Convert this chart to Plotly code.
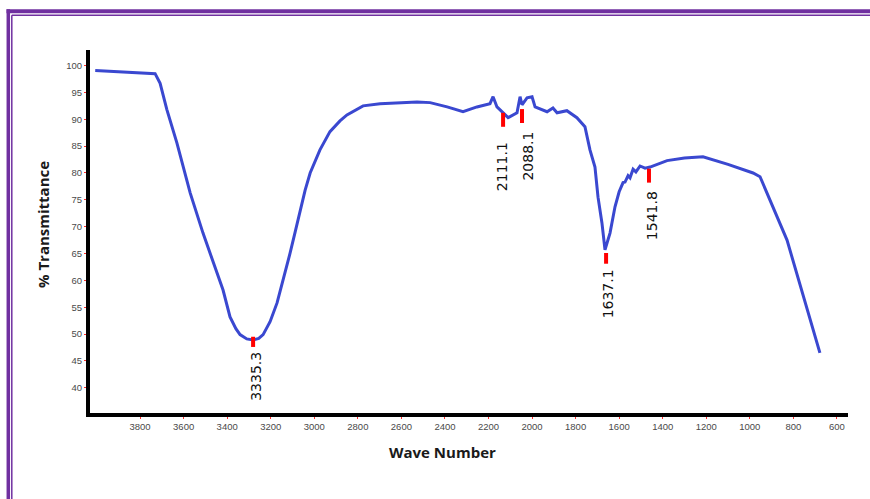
import plotly.graph_objects as go

# ---- data ----
wavenumber = [4006, 3869, 3731, 3708, 3677, 3631, 3570, 3511, 3446, 3419, 3387, 3360, 3341, 3310,
              3281, 3255, 3235, 3203, 3171, 3139, 3111, 3088, 3065, 3042, 3019, 2974, 2928, 2882,
              2850, 2776, 2698, 2620, 2528, 2468, 2390, 2317,
              2253, 2193, 2179, 2161, 2133, 2110, 2069, 2055, 2046, 2023, 2000, 1986, 1931,
              1904, 1885, 1840, 1794, 1757, 1734, 1711, 1697, 1679, 1665, 1642, 1619, 1600,
              1582, 1573, 1559, 1550, 1536, 1523, 1504, 1481, 1458, 1380, 1300, 1229, 1215,
              1100, 985, 953, 829, 678]
transmittance = [99.1, 98.8, 98.5, 96.7, 91.8, 85.6, 76.3, 68.8, 61.4, 58.2, 53.2, 51.0, 49.9, 49.1,
                 48.9, 49.2, 49.9, 52.3, 55.8, 60.5, 65.1, 69.0, 73.1, 76.8, 80.0, 84.3, 87.7, 89.7,
                 90.8, 92.5, 92.9, 93.1, 93.2, 93.1, 92.3, 91.4,
                 92.3, 92.9, 94.2, 92.3, 91.2, 90.3, 91.2, 94.2, 92.7, 94.0, 94.2, 92.3, 91.4,
                 92.1, 91.2, 91.6, 90.3, 88.6, 84.3, 81.1, 75.5, 70.7, 65.7, 68.8, 73.7, 76.5,
                 78.2, 78.3, 79.5, 79.1, 80.7, 80.2, 81.3, 80.9, 81.1, 82.3, 82.8, 83.0, 83.0,
                 81.6, 80.0, 79.3, 67.5, 46.5]

peak_labels = ["3335.3", "2111.1", "2088.1", "1637.1", "1541.8"]
peak_x = [3281, 2133, 2046, 1660, 1463]
peak_top = [49.5, 91.2, 91.9, 65.1, 80.8]
peak_bottom = [47.6, 88.6, 89.3, 63.1, 78.2]
label_x = [3267, 2138, 2023, 1647, 1449]
label_top = [47.0, 86.2, 88.0, 62.5, 76.9]

x_ticks = list(range(3800, 500, -200))
y_ticks = list(range(40, 101, 5))

# ---- figure ----
fig = go.Figure()
fig.add_trace(go.Scatter(x=wavenumber, y=transmittance, mode="lines",
                         line=dict(color="#3A48D0", width=3), hoverinfo="x+y",
                         showlegend=False))

shapes = []
annotations = []
for lab, px, pt, pb, lx, lt in zip(peak_labels, peak_x, peak_top, peak_bottom, label_x, label_top):
    shapes.append(dict(type="line", xref="x", yref="y", x0=px, x1=px, y0=pb, y1=pt,
                       line=dict(color="#FF0000", width=4)))
    annotations.append(dict(x=lx, y=lt, xref="x", yref="y", text=lab, showarrow=False,
                            textangle=-90, xanchor="center", yanchor="top",
                            font=dict(family="DejaVu Sans", size=14, color="#111111")))

# plot area: left 90, right 848, top 50, bottom 413 (px)
L, R, T, B = 90, 848, 50, 413
def px_x(p):
    return (p - L) / (R - L)
def px_y(p):
    return (B - p) / (B - T)

purple = "#7030A0"
# decorative double frame (top & left)
shapes += [
    dict(type="line", xref="paper", yref="paper", x0=px_x(6.5), x1=px_x(900), y0=px_y(11.3), y1=px_y(11.3),
         line=dict(color=purple, width=4)),
    dict(type="line", xref="paper", yref="paper", x0=px_x(8.3), x1=px_x(8.3), y0=px_y(9.3), y1=px_y(520),
         line=dict(color=purple, width=3.5)),
    dict(type="line", xref="paper", yref="paper", x0=px_x(11.8), x1=px_x(900), y0=px_y(15.2), y1=px_y(15.2),
         line=dict(color=purple, width=1.5)),
    dict(type="line", xref="paper", yref="paper", x0=px_x(11.8), x1=px_x(11.8), y0=px_y(15.2), y1=px_y(520),
         line=dict(color=purple, width=1.5)),
]

annotations += [
    dict(x=px_x(442.5), y=px_y(452), xref="paper", yref="paper", text="<b>Wave Number</b>",
         showarrow=False, xanchor="center", yanchor="middle",
         font=dict(family="Open Sans", size=15, color="#1a1a1a")),
    dict(x=px_x(43), y=px_y(225), xref="paper", yref="paper", text="<b>% Transmittance</b>",
         showarrow=False, textangle=-90, xanchor="center", yanchor="middle",
         font=dict(family="Open Sans", size=15, color="#1a1a1a")),
]

fig.update_layout(
    width=870, height=499,
    margin=dict(l=L, r=870 - R, t=T, b=499 - B),
    paper_bgcolor="white", plot_bgcolor="white",
    shapes=shapes, annotations=annotations,
    xaxis=dict(range=[4030, 549], tickvals=x_ticks, ticktext=[str(v) for v in x_ticks],
               showgrid=False, zeroline=False, showline=True, linecolor="black", linewidth=4,
               ticks="outside", ticklen=2, tickcolor="#FF3030", tickwidth=1,
               tickfont=dict(family="Liberation Sans", size=9.5, color="#4a4a4a")),
    yaxis=dict(range=[35.3, 102.9], tickvals=y_ticks, ticktext=[str(v) for v in y_ticks],
               showgrid=False, zeroline=False, showline=True, linecolor="black", linewidth=4,
               ticks="outside", ticklen=2, tickcolor="#FF3030", tickwidth=1,
               tickfont=dict(family="Liberation Sans", size=9.5, color="#4a4a4a")),
)

fig.write_html("out.html")
